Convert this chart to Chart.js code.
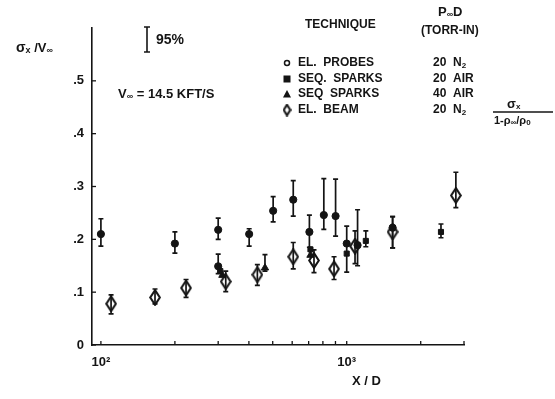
<!DOCTYPE html>
<html>
<head>
<meta charset="utf-8">
<script src="https://cdn.jsdelivr.net/npm/chart.js@4"></script>
<style>
  html, body { margin: 0; padding: 0; background: #fff; }
  #wrap { width: 555px; height: 399px; }
</style>
</head>
<body>
<div id="wrap"><canvas id="myChart" width="555" height="399"></canvas></div>
<script>
// X/D ticks and sigma/V ticks
let xTicks = [100, 200, 300, 400, 500, 600, 700, 800, 900, 1000, 2000, 3000];
let yTicks = [0, 0.1, 0.2, 0.3, 0.4, 0.5];

// EL. PROBES  20 N2
let probeX  = [100, 200, 300, 300, 401, 502, 606, 705, 807, 901, 1000, 1107, 1537];
let probeY  = [0.210, 0.192, 0.218, 0.149, 0.210, 0.254, 0.275, 0.214, 0.246, 0.244, 0.192, 0.189, 0.222];
let probeLo = [0.187, 0.174, 0.200, 0.135, 0.187, 0.233, 0.244, 0.185, 0.219, 0.206, 0.138, 0.150, 0.184];
let probeHi = [0.239, 0.214, 0.240, 0.172, 0.220, 0.281, 0.311, 0.246, 0.315, 0.314, 0.225, 0.256, 0.243];

// SEQ. SPARKS  20 AIR
let spark20X  = [306, 712, 1000, 1196, 2418];
let spark20Y  = [0.140, 0.181, 0.173, 0.197, 0.214];
let spark20Lo = [0.140, 0.181, 0.173, 0.186, 0.203];
let spark20Hi = [0.140, 0.181, 0.173, 0.216, 0.229];

// SEQ SPARKS  40 AIR
let spark40X  = [312, 465, 712];
let spark40Y  = [0.132, 0.146, 0.170];
let spark40Lo = [0.132, 0.140, 0.170];
let spark40Hi = [0.132, 0.171, 0.170];

// EL. BEAM  20 N2  (sigma / 1-rho/rho)
let beamX  = [110, 166, 222, 322, 433, 606, 736, 888, 1081, 1537, 2780];
let beamY  = [0.078, 0.090, 0.108, 0.120, 0.133, 0.167, 0.160, 0.144, 0.187, 0.214, 0.283];
let beamLo = [0.059, 0.078, 0.090, 0.101, 0.113, 0.144, 0.137, 0.124, 0.154, 0.184, 0.260];
let beamHi = [0.095, 0.106, 0.124, 0.140, 0.152, 0.194, 0.180, 0.167, 0.216, 0.243, 0.327];

const INK = "#141414";
const FONT = "'Liberation Sans', Arial, sans-serif";

function pts(xs, ys) {
    return xs.map((x, i) => ({ x: x, y: ys[i] }));
}

// tall open diamond marker
function diamondImg(w, h) {
    let c = document.createElement("canvas");
    c.width = w; c.height = h;
    let g = c.getContext("2d");
    g.strokeStyle = INK;
    g.lineWidth = 2.1;
    g.beginPath();
    g.moveTo(w / 2, 1.2);
    g.lineTo(w - 1.2, h / 2);
    g.lineTo(w / 2, h - 1.2);
    g.lineTo(1.2, h / 2);
    g.closePath();
    g.stroke();
    return c;
}
let diamond = diamondImg(12, 17);

function subText(ctx, x, y, parts) {
    // parts: [text, size, dy]
    parts.forEach(p => {
        ctx.font = "bold " + p[1] + "px " + FONT;
        ctx.fillText(p[0], x, y + (p[2] || 0));
        x += ctx.measureText(p[0]).width;
    });
    return x;
}

let extras = {
    id: "extras",
    beforeDatasetsDraw(chart) {
        let ctx = chart.ctx;
        let xs = chart.scales.x, ys = chart.scales.y;
        ctx.save();
        ctx.strokeStyle = INK;
        ctx.lineWidth = 1.3;
        // inner tick marks
        yTicks.forEach(v => {
            let py = ys.getPixelForValue(v);
            ctx.beginPath();
            ctx.moveTo(xs.left, py);
            ctx.lineTo(xs.left + 4, py);
            ctx.stroke();
        });
        xTicks.forEach(v => {
            let px = xs.getPixelForValue(v);
            ctx.beginPath();
            ctx.moveTo(px, ys.bottom);
            ctx.lineTo(px, ys.bottom - 4);
            ctx.stroke();
        });
        // error bars
        ctx.lineWidth = 1.7;
        chart.data.datasets.forEach(ds => {
            ds.xs.forEach((xv, i) => {
                if (ds.lo[i] === ds.hi[i]) return;
                let px = xs.getPixelForValue(xv);
                let p1 = ys.getPixelForValue(ds.lo[i]);
                let p2 = ys.getPixelForValue(ds.hi[i]);
                ctx.beginPath();
                ctx.moveTo(px, p1); ctx.lineTo(px, p2);
                ctx.moveTo(px - 2.5, p1); ctx.lineTo(px + 2.5, p1);
                ctx.moveTo(px - 2.5, p2); ctx.lineTo(px + 2.5, p2);
                ctx.stroke();
            });
        });
        ctx.restore();
    },
    afterDraw(chart) {
        let ctx = chart.ctx;
        ctx.save();
        ctx.fillStyle = INK;
        ctx.strokeStyle = INK;
        ctx.textBaseline = "middle";
        ctx.textAlign = "left";

        // y title
        subText(ctx, 16, 48, [["σ", 14], ["x", 9, 3], [" /V", 13], ["∞", 9, 3]]);

        // 95% bar
        ctx.lineWidth = 1.6;
        ctx.beginPath();
        ctx.moveTo(147, 27); ctx.lineTo(147, 52);
        ctx.moveTo(144, 27); ctx.lineTo(150, 27);
        ctx.moveTo(144, 52); ctx.lineTo(150, 52);
        ctx.stroke();
        ctx.font = "bold 14px " + FONT;
        ctx.fillText("95%", 156, 40);

        // velocity note
        subText(ctx, 118, 94, [["V", 13], ["∞", 9, 3], [" = 14.5 KFT/S", 13]]);

        // legend table
        ctx.font = "bold 12px " + FONT;
        ctx.fillText("TECHNIQUE", 305, 25);
        subText(ctx, 438, 12, [["P", 13], ["∞", 9, 3], ["D", 13]]);
        ctx.font = "bold 12px " + FONT;
        ctx.fillText("(TORR-IN)", 421, 31);

        let rowsY = [63, 79, 94, 110];
        let names = ["EL.  PROBES", "SEQ.  SPARKS", "SEQ  SPARKS", "EL.  BEAM"];
        let vals = [["20  N", "2"], ["20  AIR", ""], ["40  AIR", ""], ["20  N", "2"]];
        rowsY.forEach((ry, i) => {
            ctx.font = "bold 12px " + FONT;
            ctx.fillText(names[i], 298, ry);
            subText(ctx, 433, ry, [[vals[i][0], 12], [vals[i][1], 8, 3]]);
        });
        // legend symbols
        let sx = 287;
        ctx.lineWidth = 1.5;
        ctx.beginPath(); ctx.arc(sx, rowsY[0], 2.5, 0, Math.PI * 2); ctx.stroke();
        ctx.fillRect(sx - 3.5, rowsY[1] - 3.5, 7, 7);
        ctx.beginPath();
        ctx.moveTo(sx, rowsY[2] - 4); ctx.lineTo(sx + 4, rowsY[2] + 3.5); ctx.lineTo(sx - 4, rowsY[2] + 3.5);
        ctx.closePath(); ctx.fill();
        ctx.drawImage(diamondImg(9, 13), sx - 4.5, rowsY[3] - 6.5);

        // fraction for beam
        subText(ctx, 507, 104, [["σ", 13], ["x", 8, 3]]);
        ctx.lineWidth = 1.4;
        ctx.beginPath(); ctx.moveTo(493, 112); ctx.lineTo(553, 112); ctx.stroke();
        subText(ctx, 494, 121, [["1-ρ", 11], ["∞", 8, 2], ["/ρ", 11], ["0", 8, 2]]);

        // x title
        ctx.font = "bold 13px " + FONT;
        ctx.fillText("X / D", 352, 381);
        ctx.restore();
    }
};

let canvas = document.getElementById("myChart");
let ctx = canvas.getContext("2d");

let myChart = new Chart(ctx, {
    type: "scatter",
    data: {
        datasets: [
            {
                label: "EL. PROBES",
                data: pts(probeX, probeY), xs: probeX, lo: probeLo, hi: probeHi,
                pointStyle: "circle", pointRadius: 3.6,
                backgroundColor: INK, borderColor: INK, borderWidth: 1
            },
            {
                label: "SEQ. SPARKS 20",
                data: pts(spark20X, spark20Y), xs: spark20X, lo: spark20Lo, hi: spark20Hi,
                pointStyle: "rect", pointRadius: 3.6,
                backgroundColor: INK, borderColor: INK, borderWidth: 1
            },
            {
                label: "SEQ SPARKS 40",
                data: pts(spark40X, spark40Y), xs: spark40X, lo: spark40Lo, hi: spark40Hi,
                pointStyle: "triangle", pointRadius: 4.2,
                backgroundColor: INK, borderColor: INK, borderWidth: 1
            },
            {
                label: "EL. BEAM",
                data: pts(beamX, beamY), xs: beamX, lo: beamLo, hi: beamHi,
                pointStyle: diamond, pointRadius: 6,
                backgroundColor: INK, borderColor: INK
            }
        ]
    },
    options: {
        responsive: false,
        animation: false,
        events: [],
        layout: { padding: { left: 0, right: 91, top: 28, bottom: 0 } },
        plugins: {
            legend: { display: false },
            tooltip: { enabled: false }
        },
        scales: {
            x: {
                type: "logarithmic",
                min: 92,
                max: 3000,
                afterFit: s => { s.height = 54; },
                afterBuildTicks: s => { s.ticks = xTicks.map(v => ({ value: v })); },
                grid: { display: false, drawTicks: false },
                border: { display: true, color: INK, width: 1.6 },
                ticks: {
                    autoSkip: false,
                    maxRotation: 0,
                    padding: 10,
                    color: INK,
                    font: { family: FONT, size: 13, weight: "bold" },
                    callback: v => (v === 100 ? "10²" : v === 1000 ? "10³" : "")
                }
            },
            y: {
                min: 0,
                max: 0.6,
                afterFit: s => { s.width = 92; },
                afterBuildTicks: s => { s.ticks = yTicks.map(v => ({ value: v })); },
                grid: { display: false, drawTicks: false },
                border: { display: true, color: INK, width: 1.6 },
                ticks: {
                    padding: 8,
                    color: INK,
                    font: { family: FONT, size: 13, weight: "bold" },
                    callback: v => (v === 0 ? "0" : ("" + Math.round(v * 10) / 10).replace("0.", "."))
                }
            }
        }
    },
    plugins: [extras]
});
</script>
</body>
</html>
